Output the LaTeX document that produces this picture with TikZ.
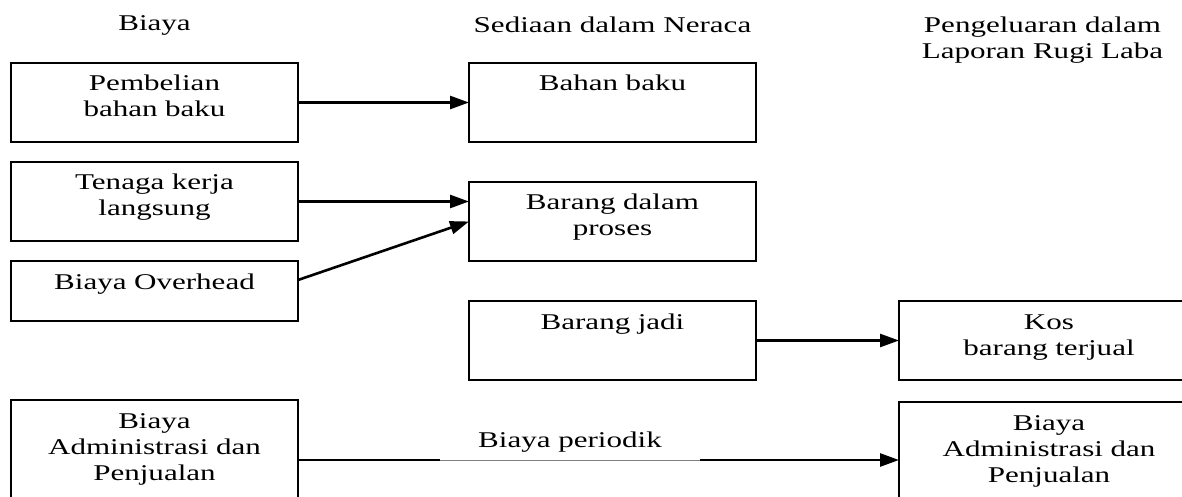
\documentclass[tikz,border=0pt]{standalone}
\usepackage{fontspec}
\setmainfont[FakeStretch=1.38]{Liberation Serif}
\usetikzlibrary{arrows.meta, positioning}

\begin{document}
\begin{tikzpicture}[x=0.5pt, y=-0.5pt, >={Triangle[length=9.5pt, width=6.5pt]},
  font={\fontsize{11.25pt}{13pt}\selectfont},
  box/.style={draw, line width=1.1pt, outer sep=0pt, minimum width=143.5pt,
              text width=140pt, inner xsep=1.75pt, inner ysep=0pt, align=center,
              text height=14pt, text depth=25.5pt},
  lowbox/.style={box, text depth=16pt},
  tallbox/.style={box, text depth=38.5pt},
  openbox/.style={minimum width=150pt},
  head/.style={align=center},
  flow/.style={->, line width=1.3pt}]
  \useasboundingbox (0,0) rectangle (1182,497);
  \fill[white] (0,0) rectangle (1182,497);
  \clip (0,0) rectangle (1182,497);

  \node[head] (hbiaya) at (154.5,25) {Biaya};
  \node[head] (hsediaan) at (612.5,25) {Sediaan dalam Neraca};
  \node[head] (hkeluar) at (1042.5,40.5) {Pengeluaran dalam\\Laporan Rugi Laba};

  \node[box] (pembelian) at (154.5,102.5) {Pembelian\\bahan baku};
  \node[box, below=10pt of pembelian] (tenaga) {Tenaga kerja\\langsung};
  \node[lowbox, below=10pt of tenaga] (overhead) {Biaya Overhead};
  \node[tallbox, below=39.5pt of overhead] (adminL)
    {Biaya\\Administrasi dan\\Penjualan};

  \node[box, right=85.5pt of pembelian] (bahan) {Bahan baku};
  \node[box, below=20pt of bahan] (proses) {Barang dalam\\proses};
  \node[box, below=20pt of proses] (jadi) {Barang jadi};

  \node[box, openbox, right=71.5pt of jadi] (kos) {Kos\\barang terjual};
  \node[tallbox, openbox, below=11pt of kos] (adminR)
    {Biaya\\Administrasi dan\\Penjualan};

  \node[anchor=south, minimum width=130pt, inner ysep=3.5pt] (periodik)
    at (570,460) {Biaya periodik};

  \draw[flow] (pembelian) -- (bahan);
  \draw[flow] (tenaga) -- (tenaga -| proses.west);
  \draw[flow] ([yshift=5.5pt]overhead.east) -- (proses.west);
  \draw[flow] (jadi) -- (kos);
  \draw[line width=1.3pt] (adminL.east |- periodik.south) -- (periodik.south west);
  \draw[gray, line width=0.5pt] (periodik.south west) -- (periodik.south east);
  \draw[flow] (periodik.south east) -- (periodik.south -| adminR.west);
\end{tikzpicture}
\end{document}
